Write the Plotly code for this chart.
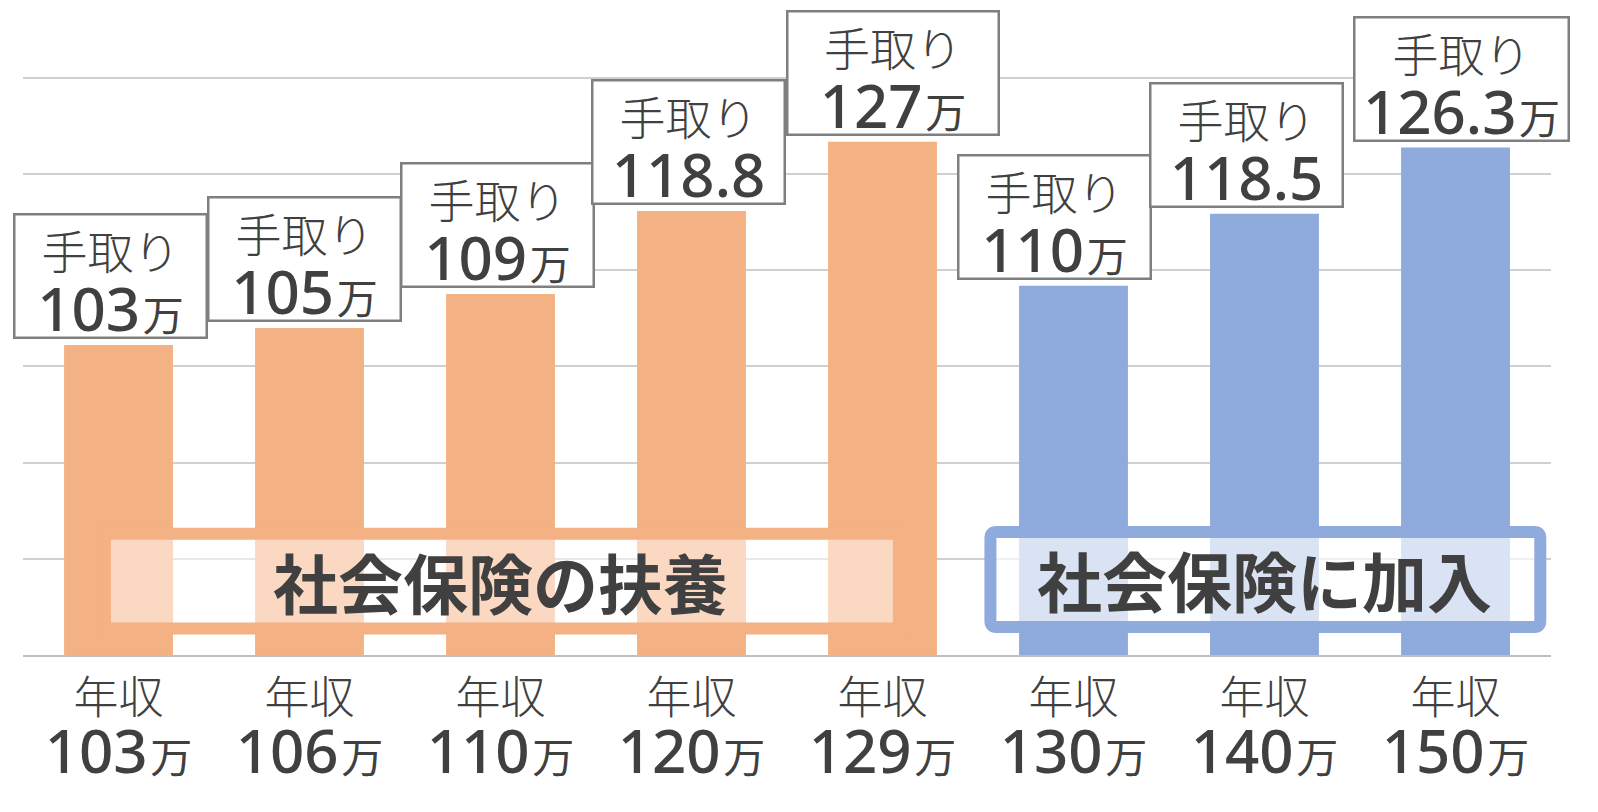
import plotly.graph_objects as go

# ---- data ----
incomes = ["103", "106", "110", "120", "129", "130", "140", "150"]
take_home = [103, 105, 109, 118.8, 127, 110, 118.5, 126.3]
take_home_text = ["103", "105", "109", "118.8", "127", "110", "118.5", "126.3"]
show_unit = [True, True, True, False, True, True, False, True]
groups = ["扶養", "扶養", "扶養", "扶養", "扶養", "加入", "加入", "加入"]
group_titles = {"扶養": "社会保険の扶養", "加入": "社会保険に加入"}

# ---- styles ----
ORANGE = "#F4B183"
BLUE = "#8FAADC"
TXT = "#404040"
group_color = {"扶養": ORANGE, "加入": BLUE}
label_dx = [-8, -5, -3, -3, 10, -19, -18, 6]
box_w = [190, 190, 190, 190, 209, 190, 190, 212]

W, H = 1598, 812
ML, MR, MT, MB = 23, 47, 10, 156.5
y0 = 66.4
px_per_unit = 8.478
plot_h = H - MT - MB
y1 = y0 + plot_h / px_per_unit
px_per_cat = (W - ML - MR) / len(incomes)

JP = "Noto Sans CJK JP"
NUM = "Noto Sans, Noto Sans CJK JP"

fig = go.Figure()
fig.add_bar(
    x=incomes,
    y=take_home,
    marker=dict(color=[group_color[g] for g in groups], line=dict(width=0)),
    width=0.57,
    hoverinfo="skip",
)

# value boxes
for i, (v, t, u) in enumerate(zip(take_home, take_home_text, show_unit)):
    unit = "<span style='font-size:41px'>&#8202;万</span>" if u else ""
    txt = (f"<span style='font-size:46px;font-weight:300'>手取り</span><br>"
           f"<span style='font-size:60px;font-family:{NUM};font-weight:500'>{t}</span>{unit}")
    fig.add_annotation(
        x=i, y=v, xref="x", yref="y", text=txt, showarrow=False,
        yanchor="bottom", xanchor="center", yshift=6, xshift=label_dx[i],
        width=box_w[i], height=121, align="center", valign="top",
        bgcolor="white", bordercolor="#7f7f7f", borderwidth=2.5, borderpad=0,
        font=dict(family=JP, size=48, color=TXT),
    )


def rounded_rect(x0, x1, y0_, y1_, rpx):
    rx = rpx / px_per_cat
    ry = rpx / px_per_unit
    return (f"M {x0 + rx},{y1_} L {x1 - rx},{y1_} Q {x1},{y1_} {x1},{y1_ - ry} "
            f"L {x1},{y0_ + ry} Q {x1},{y0_} {x1 - rx},{y0_} "
            f"L {x0 + rx},{y0_} Q {x0},{y0_} {x0},{y0_ + ry} "
            f"L {x0},{y1_ - ry} Q {x0},{y1_} {x0 + rx},{y1_} Z")


# group frames
frames = [
    dict(g="扶養", x0=-0.071, x1=4.086, yt=80.71, yb=69.53, alpha=0.5, cx=2.0, r=0),
    dict(g="加入", x0=4.565, x1=7.444, yt=80.93, yb=69.70, alpha=0.67, cx=6.0, r=6),
]
for f in frames:
    common = dict(
        xref="x", yref="y",
        line=dict(color=group_color[f["g"]], width=12),
        fillcolor=f"rgba(255,255,255,{f['alpha']})", layer="above",
    )
    if f["r"]:
        fig.add_shape(type="path", path=rounded_rect(f["x0"], f["x1"], f["yb"], f["yt"], f["r"]), **common)
    else:
        fig.add_shape(type="rect", x0=f["x0"], x1=f["x1"], y0=f["yb"], y1=f["yt"], **common)
    fig.add_annotation(
        x=f["cx"], y=(f["yt"] + f["yb"]) / 2, xref="x", yref="y",
        text=f"<b>{group_titles[f['g']]}</b>", showarrow=False,
        font=dict(family=JP, size=65, color=TXT), xanchor="center", yanchor="middle",
    )

ticktext = [
    f"<span style='font-weight:300'>年収</span><br>"
    f"<span style='font-size:60px;font-family:{NUM};font-weight:500'>{c}</span>"
    f"<span style='font-size:42px'>&#8202;万</span>"
    for c in incomes
]

fig.update_layout(
    width=W, height=H,
    margin=dict(l=ML, r=MR, t=MT, b=MB, pad=0),
    paper_bgcolor="white", plot_bgcolor="white",
    showlegend=False,
    bargap=0.43,
    xaxis=dict(
        type="category", tickmode="array", tickvals=incomes, ticktext=ticktext,
        tickfont=dict(family=JP, size=45, color=TXT),
        showline=True, linecolor="#bfbfbf", linewidth=2, ticks="",
        ticklabelstandoff=3,
        showgrid=False, range=[-0.5, 7.5],
    ),
    yaxis=dict(
        range=[y0, y1], tick0=y0, dtick=11.36, showticklabels=False,
        gridcolor="#d0d0d0", gridwidth=1.5, zeroline=False, showline=False, ticks="",
    ),
)

fig.write_html("out.html")
